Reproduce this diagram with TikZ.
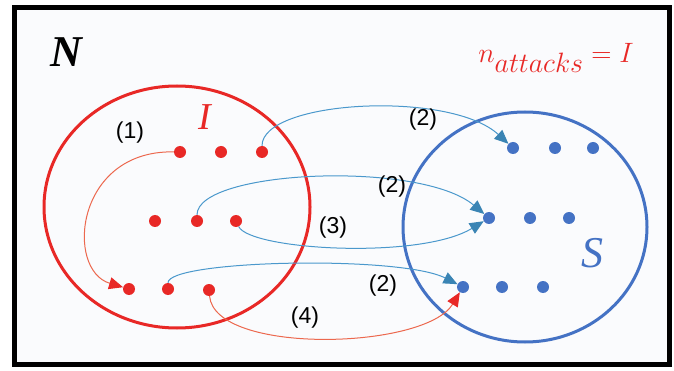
\RequirePackage{fix-cm}
\documentclass[tikz,border=0pt]{standalone}
\usepackage{fontspec}
\usepackage{xcolor}
\usepackage{tikz}
\usetikzlibrary{arrows.meta}
\newfontfamily\labelfont{Liberation Sans}
\newfontfamily\titlefont{Liberation Serif}

\definecolor{setred}{RGB}{232,40,38}
\definecolor{setblue}{RGB}{68,114,196}
\definecolor{linkred}{RGB}{236,104,78}
\definecolor{linkblue}{RGB}{74,152,204}
\definecolor{tipblue}{RGB}{58,132,180}
\definecolor{paper}{RGB}{250,251,253}

\tikzset{
  reddot/.style={circle, fill=setred, inner sep=0pt, minimum size=12pt},
  bluedot/.style={circle, fill=setblue, inner sep=0pt, minimum size=12pt},
  steplabel/.style={font=\labelfont\fontsize{23}{26}\selectfont},
  redlink/.style={linkred, line width=1pt, -{Triangle[length=14pt, width=12pt, color=setred]}},
  bluelink/.style={linkblue, line width=1pt, -{Triangle[length=14pt, width=12pt, color=tipblue]}}
}

\begin{document}
\begin{tikzpicture}[x=1pt, y=-1pt]
  \useasboundingbox (0,0) rectangle (674,371);
  % ---- frame ----
  \draw[line width=5pt, fill=paper] (14.5,7.5) rectangle (669.5,364.5);
  \node (N) at (66,52) {\titlefont\bfseries\itshape\fontsize{44}{46}\selectfont N};
  \node[setred] (rule) at (556,58) {\fontsize{28}{32}\selectfont $n_{\textstyle attacks}=I$};
  % ---- the two sets ----
  \draw[setred, line width=3pt] (177,207) ellipse [x radius=133, y radius=121];
  \draw[setblue, line width=3pt] (525,227) ellipse [x radius=122, y radius=115];
  \node[setred] (I) at (205,117) {\titlefont\itshape\fontsize{38}{40}\selectfont I};
  \node[setblue] (S) at (592,253) {\titlefont\itshape\fontsize{44}{46}\selectfont S};
  % ---- infected nodes ----
  \node[reddot] (r11) at (180,152) {};
  \node[reddot] (r12) at (221,152) {};
  \node[reddot] (r13) at (262,152) {};
  \node[reddot] (r21) at (155,221) {};
  \node[reddot] (r22) at (197,221) {};
  \node[reddot] (r23) at (236,221) {};
  \node[reddot] (r31) at (129,289) {};
  \node[reddot] (r32) at (168,289) {};
  \node[reddot] (r33) at (209,290) {};
  % ---- susceptible nodes ----
  \node[bluedot] (b11) at (513,148) {};
  \node[bluedot] (b12) at (555,148) {};
  \node[bluedot] (b13) at (593,148) {};
  \node[bluedot] (b21) at (489,218) {};
  \node[bluedot] (b22) at (530,218) {};
  \node[bluedot] (b23) at (569,218) {};
  \node[bluedot] (b31) at (463,287) {};
  \node[bluedot] (b32) at (502,287) {};
  \node[bluedot] (b33) at (543,287) {};
  % ---- attacks ----
  \draw[redlink] (r11) .. controls (75,150) and (65,270) .. (r31);
  \draw[bluelink] (r13) .. controls (262,100) and (450,90) .. (b11);
  \draw[bluelink] (r22) .. controls (197,170) and (420,160) .. (b21);
  \draw[bluelink] (r23) .. controls (250,250) and (420,260) .. (b21);
  \draw[bluelink] (r32) .. controls (168,260) and (400,255) .. (b31);
  \draw[redlink] (r33) .. controls (215,355) and (425,350) .. (b31);
  \node[steplabel] (l1) at (130,133) {(1)};
  \node[steplabel] (l2a) at (423,120) {(2)};
  \node[steplabel] (l2b) at (392,187) {(2)};
  \node[steplabel] (l3) at (333,228) {(3)};
  \node[steplabel] (l2c) at (383,286) {(2)};
  \node[steplabel] (l4) at (305,318) {(4)};
\end{tikzpicture}
\end{document}
